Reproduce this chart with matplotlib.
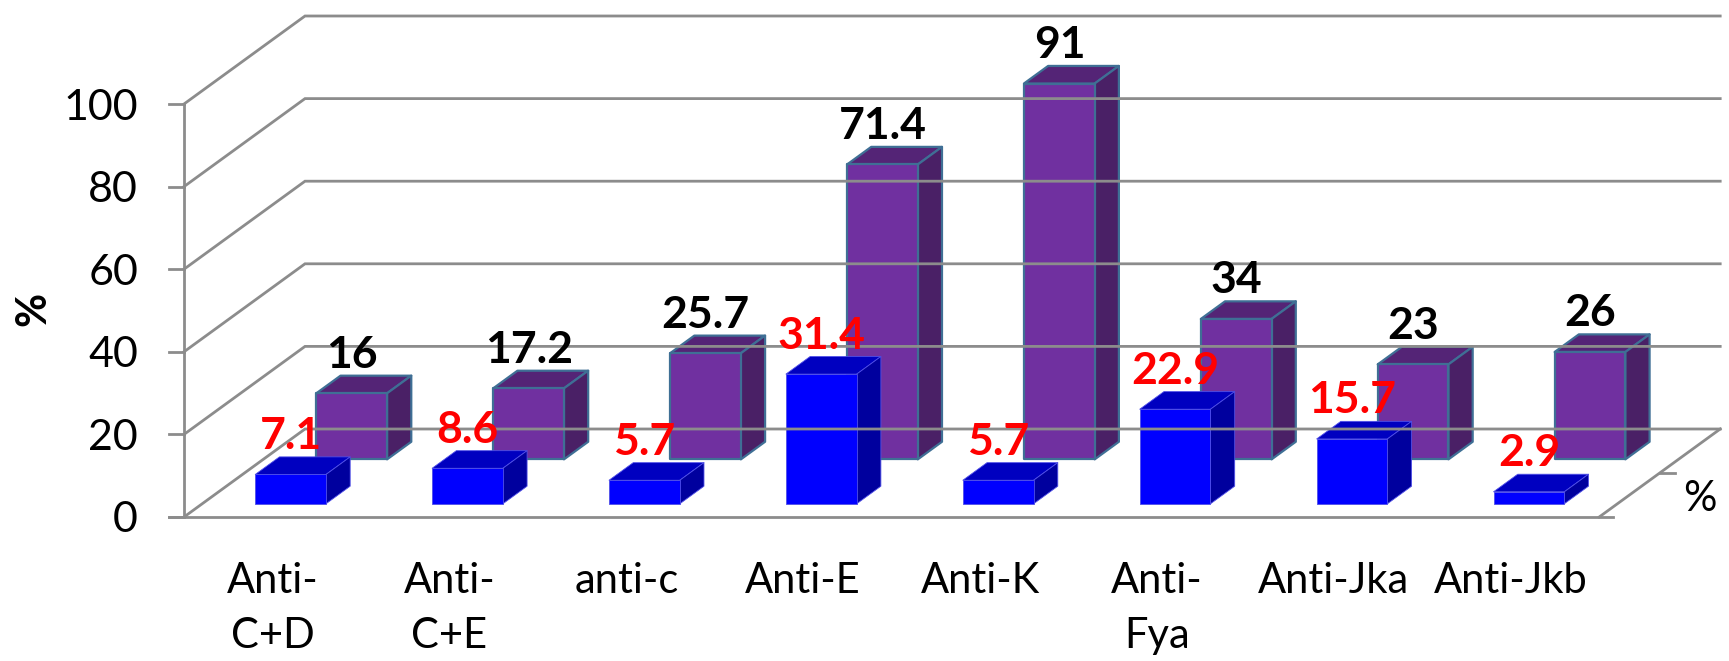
import matplotlib
matplotlib.use('Agg')
import matplotlib.pyplot as plt
from matplotlib.patches import Polygon

plt.rcParams['font.family'] = ['Lato', 'DejaVu Sans']

categories = ['Anti-\nC+D', 'Anti-\nC+E', 'anti-c', 'Anti-E', 'Anti-K', 'Anti-\nFya', 'Anti-Jka', 'Anti-Jkb']
front_values = [7.1, 8.6, 5.7, 31.4, 5.7, 22.9, 15.7, 2.9]
back_values = [16, 17.2, 25.7, 71.4, 91, 34, 23, 26]
y_ticks = [0, 20, 40, 60, 80, 100]

# pixel layout of the picture
W, H = 1729, 661
cat_px = 176.9
val_px = 4.13
x0_px, y0_px = 184, 517

# oblique projection, depth 0..1 goes into the picture
depth_dx = 121 / cat_px
depth_dy = 88 / val_px


def proj(x, y, d):
    return x + d * depth_dx, y + d * depth_dy


def box(ax, i, value, d0, d1, width, front, top, side, edge, lw):
    l, r = i + 0.5 - width / 2, i + 0.5 + width / 2
    faces = [
        ([(l, value, d0), (r, value, d0), (r, value, d1), (l, value, d1)], top),
        ([(r, 0, d0), (r, 0, d1), (r, value, d1), (r, value, d0)], side),
        ([(l, 0, d0), (r, 0, d0), (r, value, d0), (l, value, d0)], front),
    ]
    for pts, color in faces:
        ax.add_patch(Polygon([proj(*p) for p in pts], closed=True, facecolor=color,
                             edgecolor=edge, linewidth=lw, joinstyle='round'))


fig = plt.figure(figsize=(W / 100, H / 100), dpi=100)
ax = fig.add_axes([0, 0, 1, 1])
ax.set_xlim(-x0_px / cat_px, (W - x0_px) / cat_px)
ax.set_ylim(-(H - y0_px) / val_px, y0_px / val_px)
ax.axis('off')

n = len(categories)
grid = '#8c8c8c'
tick_len = 15 / cat_px

# walls and floor
for v in y_ticks:
    bx, by = proj(0, v, 1)
    ex, ey = proj(n, v, 1)
    ax.plot([0, bx, ex], [v, by, ey], color=grid, lw=2, solid_joinstyle='miter')
    ax.plot([-tick_len, 0], [v, v], color=grid, lw=2)
    ax.text(-46 / cat_px, v, str(v), ha='right', va='center_baseline', fontsize=31, color='black')
ax.plot([0, 0], [0, 100], color=grid, lw=2)
ax.plot([-tick_len, n + 14 / cat_px], [0, 0], color=grid, lw=2)
bx, by = proj(n, 0, 1)
ax.plot([n, bx], [0, by], color=grid, lw=2)
mx, my = proj(n, 0, 0.5)
ax.plot([mx, mx + 15 / cat_px], [my, my], color=grid, lw=2)

# back row first, front row over it
for i, v in enumerate(back_values):
    box(ax, i, v, 0.655, 0.855, 0.40, '#7030A0', '#542476', '#4A2066', '#3F6F95', 1.6)
for i, v in enumerate(front_values):
    box(ax, i, v, 0.15, 0.35, 0.40, '#0000FF', '#0000C0', '#00009E', '#5050E8', 0.6)

for i, v in enumerate(back_values):
    x, y = proj(i + 0.5, v, 0.855)
    ax.annotate(str(v), (x, y), xytext=(-24, 1), textcoords='offset pixels', ha='center', va='bottom',
                fontsize=32, fontweight='bold', color='black')
for i, v in enumerate(front_values):
    x, y = proj(i + 0.5, v, 0.35)
    ax.annotate(str(v), (x, y), xytext=(-24, 1), textcoords='offset pixels', ha='center', va='bottom',
                fontsize=32, fontweight='bold', color='#FF0000')

for i, c in enumerate(categories):
    ax.text(i + 0.5, -10.9, c, ha='center', va='top', fontsize=30, linespacing=1.55, color='black')

ax.text(33 / cat_px - x0_px / cat_px, (y0_px - 309) / val_px, '%', rotation=90, ha='center', va='center',
        fontsize=30, fontweight='bold', color='black')
ax.text((1700 - x0_px) / cat_px, (y0_px - 499) / val_px, '%', ha='center', va='center', fontsize=30, color='black')

fig.savefig('out.png', dpi=100)
